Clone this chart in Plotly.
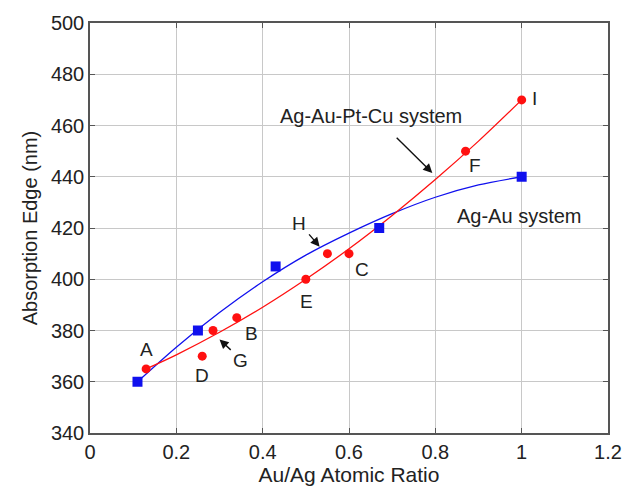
import plotly.graph_objects as go

# Ag-Au system (blue squares)
agau_x = [0.11, 0.25, 0.43, 0.67, 1.0]
agau_y = [360, 380, 405, 420, 440]
# Ag-Au-Pt-Cu system (red circles)
alloy_labels = ["A", "D", "G", "B", "E", "H", "C", "F", "I"]
alloy_x = [0.13, 0.26, 0.285, 0.34, 0.50, 0.55, 0.60, 0.87, 1.0]
alloy_y = [365, 370, 380, 385, 400, 410, 410, 450, 470]
# fitted curves
agau_fit_x = [0.11, 0.2, 0.3, 0.4, 0.5, 0.6, 0.7, 0.8, 0.9, 1.0]
agau_fit_y = [360, 373.5, 387.0, 399.0, 409.4, 418.0, 425.6, 432.0, 436.8, 440]
alloy_fit_x = [0.13, 0.2, 0.3, 0.4, 0.5, 0.6, 0.7, 0.8, 0.9, 1.0]
alloy_fit_y = [365, 370.5, 379.3, 389.1, 400.0, 411.9, 424.9, 438.9, 453.9, 470]

x_ticks = [0, 0.2, 0.4, 0.6, 0.8, 1.0, 1.2]
x_tick_text = ["0", "0.2", "0.4", "0.6", "0.8", "1", "1.2"]
y_ticks = [340, 360, 380, 400, 420, 440, 460, 480, 500]

# label positions (data coords)
label_x = {"A": 0.132, "B": 0.375, "C": 0.630, "D": 0.259, "E": 0.502,
           "F": 0.891, "G": 0.348, "H": 0.484, "I": 1.03}
label_y = {"A": 372.7, "B": 378.8, "C": 403.8, "D": 362.3, "E": 391.2,
           "F": 444.2, "G": 368.1, "H": 421.9, "I": 470.4}

FONT = "Liberation Sans, Arial, sans-serif"
RED = "#ff1010"
BLUE = "#1010ee"

fig = go.Figure()
fig.add_trace(go.Scatter(x=agau_fit_x, y=agau_fit_y, mode="lines",
                         line=dict(color=BLUE, width=1.3, shape="spline", smoothing=0.8),
                         hoverinfo="skip"))
fig.add_trace(go.Scatter(x=alloy_fit_x, y=alloy_fit_y, mode="lines",
                         line=dict(color=RED, width=1.3, shape="spline", smoothing=0.8),
                         hoverinfo="skip"))
fig.add_trace(go.Scatter(x=agau_x, y=agau_y, mode="markers",
                         marker=dict(symbol="square", size=10, color=BLUE)))
fig.add_trace(go.Scatter(x=alloy_x, y=alloy_y, mode="markers",
                         marker=dict(symbol="circle", size=9, color=RED)))

for lab in alloy_labels:
    fig.add_annotation(x=label_x[lab], y=label_y[lab], text=lab, showarrow=False,
                       font=dict(size=19, color="#222", family=FONT))

fig.add_annotation(x=0.65, y=463.8, text="Ag-Au-Pt-Cu system", showarrow=False,
                   font=dict(size=20, color="#222", family=FONT))
fig.add_annotation(x=0.993, y=424.6, text="Ag-Au system", showarrow=False,
                   font=dict(size=20, color="#222", family=FONT))

arrows = [((0.300, 376.5), (0.3295, 371.9)),
          ((0.532, 412.7), (0.5045, 418.1)),
          ((0.793, 441.5), (0.707, 455.8))]
for (hx, hy), (tx, ty) in arrows:
    fig.add_annotation(x=hx, y=hy, ax=tx, ay=ty, xref="x", yref="y",
                       axref="x", ayref="y", text="", showarrow=True,
                       arrowhead=2, arrowsize=1.3, arrowwidth=1.4,
                       arrowcolor="#111")

axis_common = dict(showgrid=True, gridcolor="#c8c8c8", gridwidth=1,
                   showline=True, linecolor="#555", linewidth=1.5,
                   mirror="allticks", ticks="inside", ticklen=5,
                   tickcolor="#555", zeroline=False,
                   tickfont=dict(size=20, color="#222", family=FONT))

fig.update_xaxes(range=[0, 1.2], tickvals=x_ticks, ticktext=x_tick_text,
                 title=dict(text="Au/Ag Atomic Ratio", standoff=6,
                            font=dict(size=21, color="#222", family=FONT)),
                 **axis_common)
fig.update_yaxes(range=[340, 500], tickvals=y_ticks,
                 title=dict(text="Absorption Edge (nm)", standoff=8,
                            font=dict(size=20, color="#222", family=FONT)),
                 **axis_common)

fig.update_layout(width=634, height=498, showlegend=False,
                  plot_bgcolor="white", paper_bgcolor="white",
                  margin=dict(l=90, r=16, t=17, b=65))

fig.write_html("out.html")
